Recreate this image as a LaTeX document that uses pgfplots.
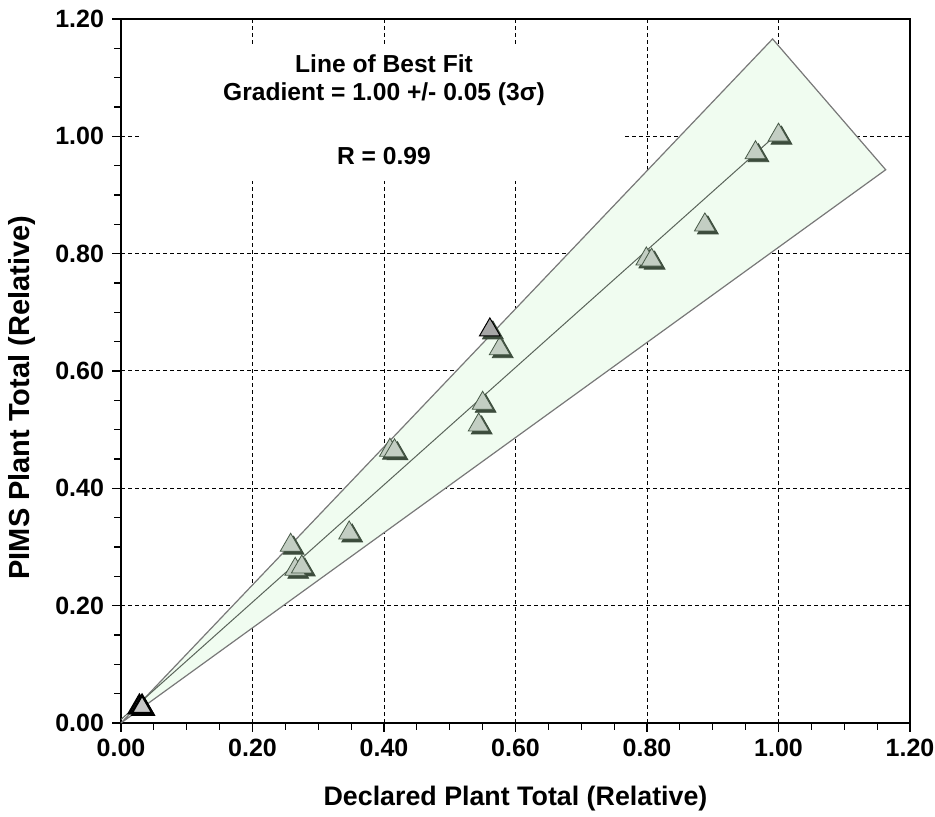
\documentclass[border=0pt]{standalone}
\usepackage{fontspec}
\setmainfont{Liberation Sans}
\usepackage{pgfplots}
\usepackage{pgfplotstable}
\pgfplotsset{compat=1.18}

\definecolor{bandfill}{RGB}{240,252,240}
\definecolor{bandedge}{RGB}{120,120,120}
\definecolor{markfill}{RGB}{195,206,195}
\definecolor{markedge}{RGB}{70,88,70}
\definecolor{markshadow}{RGB}{60,76,60}
\definecolor{fitline}{RGB}{90,100,90}

% declared vs PIMS (relative)
\pgfplotstableread{
x y
0.258 0.303
0.265 0.262
0.275 0.266
0.347 0.324
0.409 0.465
0.416 0.464
0.576 0.638
0.550 0.545
0.544 0.508
0.799 0.791
0.807 0.789
0.888 0.849
0.965 0.972
1.000 1.002
}\pts

\begin{document}
\begin{tikzpicture}
\useasboundingbox (0,0) rectangle (467.5pt,408.5pt);
\begin{axis}[
    at={(60.5pt,47pt)}, anchor=south west,
    scale only axis, width=394.5pt, height=352pt,
    xmin=0, xmax=1.2, ymin=0, ymax=1.2,
    xtick={0,0.2,0.4,0.6,0.8,1.0,1.2}, ytick={0,0.2,0.4,0.6,0.8,1.0,1.2},
    minor tick num=3,
    tick align=outside, xtick pos=bottom, ytick pos=left,
    major tick length=4.5pt, minor tick length=3.5pt,
    tick style={black, line width=0.6pt},
    grid=major,
    major grid style={black, line width=0.5pt, dash pattern=on 2pt off 1.5pt},
    axis line style={black, line width=0.8pt},
    clip=false,
    ticklabel style={font=\bfseries\fontsize{12.5}{14}\selectfont},
    yticklabel style={xshift=-0.5pt},
    /pgf/number format/fixed, /pgf/number format/fixed zerofill,
    /pgf/number format/precision=2, /pgf/number format/assume math mode=true,
    xlabel={Declared Plant Total (Relative)},
    ylabel={PIMS Plant Total (Relative)},
    x label style={font=\bfseries\fontsize{13.4}{15}\selectfont, at={(axis description cs:0.5,-0.107)}, anchor=center},
    y label style={font=\bfseries\fontsize{14.5}{16}\selectfont, at={(axis description cs:-0.126,0.462)}, anchor=center},
]
% confidence band and fit
\addplot[draw=bandedge, fill=bandfill, line width=0.6pt] coordinates {(0,0) (0.991,1.166) (1.163,0.943) (0,0)};
\addplot[fitline, line width=0.5pt] coordinates {(0,0.006) (1.0,1.006)};

% text panel
\fill[white] (axis cs:0.03,0.924) rectangle (axis cs:0.767,1.155);
\node[font=\bfseries\fontsize{12.3}{14}\selectfont] at (axis cs:0.40,1.124) {Line of Best Fit};
\node[font=\bfseries\fontsize{12.3}{14}\selectfont] at (axis cs:0.40,1.072) {Gradient = 1.00 +/- 0.05 (3σ)};
\node[font=\bfseries\fontsize{12.3}{14}\selectfont] at (axis cs:0.40,0.967) {R = 0.99};

% markers: shadow then face
\addplot[only marks, mark=triangle*, mark size=6pt, mark options={fill=markshadow, draw=markshadow, xshift=1.5pt, yshift=-1.5pt}] table {\pts};
\addplot[only marks, mark=triangle*, mark size=6pt, mark options={fill=markfill, draw=markedge, line width=0.4pt}] table {\pts};

\addplot[only marks, mark=triangle*, mark size=6pt, mark options={fill=black, draw=black, xshift=1.2pt, yshift=-1.2pt}] coordinates {(0.028,0.027) (0.032,0.027)};
\addplot[only marks, mark=triangle*, mark size=6pt, mark options={fill=black!22, draw=black, line width=1.2pt}] coordinates {(0.028,0.027) (0.032,0.027)};

\addplot[only marks, mark=triangle*, mark size=6pt, mark options={fill=markshadow, draw=markshadow, xshift=1.5pt, yshift=-1.5pt}] coordinates {(0.561,0.670)};
\addplot[only marks, mark=triangle*, mark size=6pt, mark options={fill=black!35, draw=black, line width=0.5pt}] coordinates {(0.561,0.670)};
\end{axis}
\end{tikzpicture}
\end{document}
